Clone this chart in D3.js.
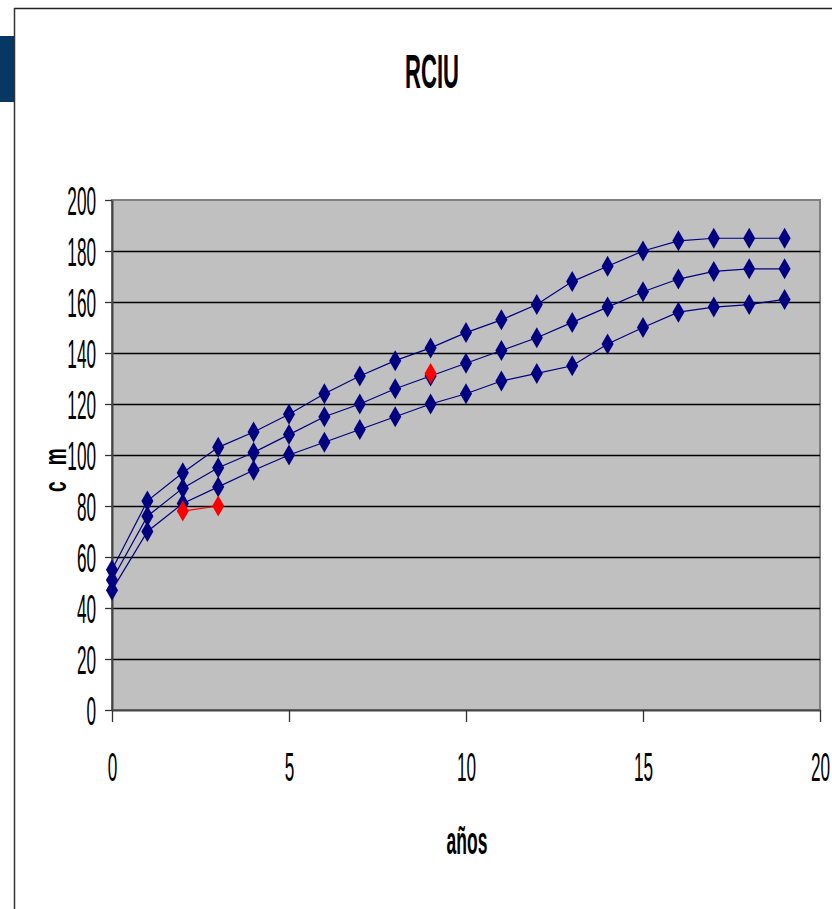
<!DOCTYPE html>
<html>
<head>
<meta charset="utf-8">
<script src="https://cdn.jsdelivr.net/npm/d3@7"></script>
<style>
  body { margin: 0; background: #fff; }
  svg { display: block; }
  text { font-family: "Liberation Sans", Arial, sans-serif; fill: #000; }
</style>
</head>
<body>
<script>
// values
const years = [0, 1, 2, 3, 4, 5, 6, 7, 8, 9, 10, 11, 12, 13, 14, 15, 16, 17, 18, 19];
const upper = [55, 82, 93, 103, 109, 116, 124, 131, 137, 142, 148, 153, 159, 168, 174, 180, 184, 185, 185, 185];
const middle = [51, 76, 87, 95, 101, 108, 115, 120, 126, 131, 136, 141, 146, 152, 158, 164, 169, 172, 173, 173];
const lower = [47, 70, 81, 87.5, 94, 100, 105, 110, 115, 120, 124, 129, 132, 135, 143.5, 150, 156, 158, 159, 161];
const patientYears = [2, 3];
const patientCm = [78, 80];
const laterYears = [9];
const laterCm = [132];
const yTicks = [0, 20, 40, 60, 80, 100, 120, 140, 160, 180, 200];
const xTicks = [0, 5, 10, 15, 20];

const W = 832, H = 909;
const plotL = 112, plotR = 820, plotT = 200, plotB = 710;
const sx = 0.46; // the original text is narrow
const tsx = 0.43; // tick labels

const svg = d3.select("body").append("svg")
  .attr("width", W)
  .attr("height", H);

// slide frame
svg.append("rect").attr("x", 0).attr("y", 36).attr("width", 14).attr("height", 66).attr("fill", "#073763");
svg.append("line").attr("x1", 14).attr("x2", W).attr("y1", 8.5).attr("y2", 8.5)
  .attr("stroke", "#222").attr("stroke-width", 1.5);
svg.append("line").attr("x1", 14.5).attr("x2", 14.5).attr("y1", 8).attr("y2", H)
  .attr("stroke", "#333").attr("stroke-width", 1.5);

const x = d3.scaleLinear().domain([0, 20]).range([plotL, plotR]);
const y = d3.scaleLinear().domain([0, 200]).range([plotB, plotT]);

// plot area
svg.append("rect")
  .attr("x", plotL).attr("y", plotT)
  .attr("width", plotR - plotL).attr("height", plotB - plotT)
  .attr("fill", "#c0c0c0")
  .attr("stroke", "#808080").attr("stroke-width", 2);

svg.append("g").selectAll("line")
  .data(yTicks.filter(d => d > 0 && d < 200))
  .enter().append("line")
    .attr("x1", plotL).attr("x2", plotR)
    .attr("y1", d => Math.round(y(d)) + 0.5).attr("y2", d => Math.round(y(d)) + 0.5)
    .attr("stroke", "#000").attr("stroke-width", 1.3);

// y axis
const yAxis = svg.append("g")
  .attr("transform", `translate(${plotL},0)`)
  .call(d3.axisLeft(y).tickValues(yTicks).tickSize(7).tickSizeOuter(0));
yAxis.select(".domain").attr("stroke", "#444").attr("stroke-width", 2);
yAxis.selectAll(".tick line").attr("stroke", "#333").attr("stroke-width", 1.3);
yAxis.selectAll(".tick text")
  .attr("x", -16 / tsx)
  .attr("dy", "0.36em")
  .attr("transform", `scale(${tsx},1)`)
  .style("font-size", "40px");

// x axis
const xAxis = svg.append("g")
  .attr("transform", `translate(0,${plotB})`)
  .call(d3.axisBottom(x).tickValues(xTicks).tickSize(12).tickSizeOuter(0));
xAxis.select(".domain").attr("stroke", "#444").attr("stroke-width", 2);
xAxis.selectAll(".tick line").attr("stroke", "#333").attr("stroke-width", 1.3);
xAxis.selectAll(".tick text")
  .attr("x", 0)
  .attr("y", 71)
  .attr("dy", 0)
  .attr("transform", `scale(${tsx},1)`)
  .style("font-size", "40px");

// series
const line = d3.line().x(d => x(d[0])).y(d => y(d[1]));
const diamond = d3.symbol().type(d3.symbolDiamond).size(127);

function drawSeries(xs, ys, color) {
  const pts = xs.map((v, i) => [v, ys[i]]);
  const g = svg.append("g");
  if (pts.length > 1) {
    g.append("path").datum(pts)
      .attr("d", line)
      .attr("fill", "none")
      .attr("stroke", color)
      .attr("stroke-width", 1.2);
  }
  g.selectAll("path.m").data(pts)
    .enter().append("path")
      .attr("class", "m")
      .attr("d", diamond)
      .attr("transform", d => `translate(${x(d[0])},${y(d[1])})`)
      .attr("fill", color);
}

drawSeries(years, upper, "#000080");
drawSeries(years, middle, "#000080");
drawSeries(years, lower, "#000080");
drawSeries(patientYears, patientCm, "#ff0000");
drawSeries(laterYears, laterCm, "#ff0000");

// titles
svg.append("text")
  .attr("transform", `translate(432,88) scale(${sx},1)`)
  .attr("text-anchor", "middle")
  .style("font-size", "48px")
  .style("font-weight", "bold")
  .text("RCIU");

svg.append("text")
  .attr("transform", `translate(467,854) scale(${sx},1)`)
  .attr("text-anchor", "middle")
  .style("font-size", "38px")
  .style("font-weight", "bold")
  .text("años");

const yLab = svg.append("text")
  .attr("transform", "translate(66,492) rotate(-90) scale(0.8,1.3)")
  .style("font-size", "24px")
  .style("font-weight", "bold");
yLab.append("tspan").text("c");
yLab.append("tspan").attr("dx", 20).text("m");
</script>
</body>
</html>
